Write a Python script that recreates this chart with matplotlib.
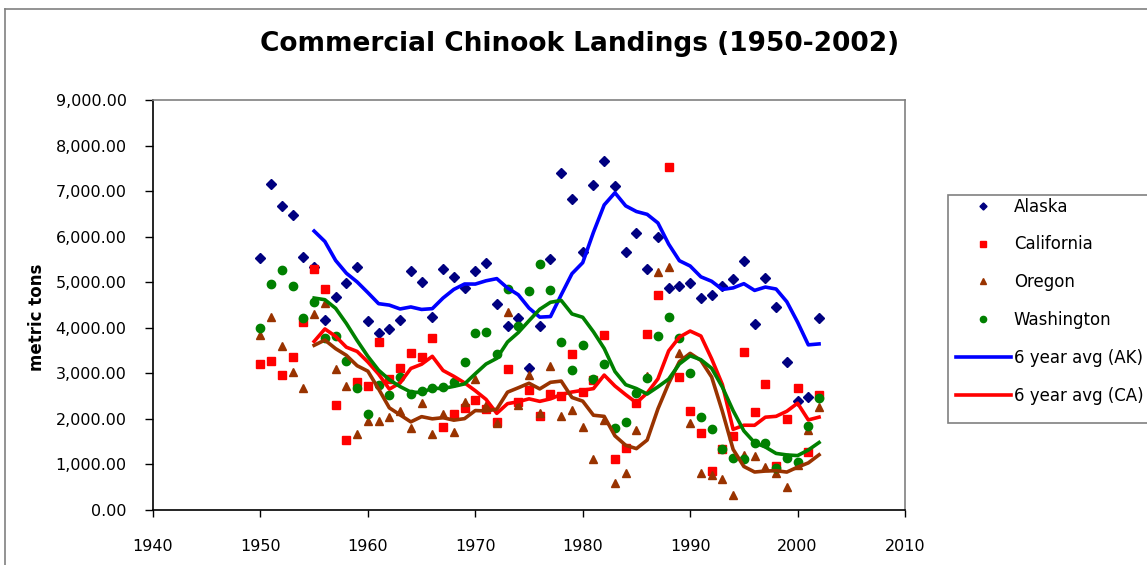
import matplotlib
matplotlib.use("Agg")
import matplotlib.pyplot as plt
from matplotlib.lines import Line2D
from matplotlib.patches import Rectangle
from matplotlib.ticker import FuncFormatter
import pandas as pd

years = list(range(1950, 2003))

alaska = [5540, 7165, 6673, 6470, 5550, 5340, 4165, 4670, 4990, 5325,
          4140, 3885, 3975, 4165, 5253, 4997, 4244, 5285, 5107, 4880,
          5243, 5429, 4529, 4050, 4221, 3124, 4050, 5502, 7397, 6833,
          5670, 7127, 7653, 7105, 5670, 6087, 5297, 5995, 4866, 4917,
          4976, 4660, 4712, 4917, 5070, 5473, 4090, 5100, 4456, 3238,
          2390, 2477, 4214]

california = [3211, 3270, 2963, 3358, 4119, 5283, 4851, 2295, 1536, 2802,
              2732, 3680, 2875, 3110, 3442, 3358, 3775, 1815, 2107, 2250,
              2404, 2220, 1935, 3090, 2360, 2634, 2070, 2550, 2510, 3417,
              2583, 2860, 3848, 1113, 1368, 2349, 3866, 4726, 7535, 2926,
              2166, 1700, 862, 1339, 1628, 3470, 2158, 2766, 976, 2008,
              2689, 1266, 2528]

oregon = [3845, 4229, 3607, 3036, 2671, 4302, 4540, 3095, 2729, 1668,
          1955, 1955, 2052, 2170, 1808, 2355, 1668, 2107, 1723, 2374,
          2872, 2297, 1900, 4356, 2297, 2974, 2125, 3165, 2063, 2195,
          1815, 1119, 1975, 600, 819, 1756, 2945, 5217, 5341, 3457,
          1917, 823, 768, 684, 340, 1200, 1188, 951, 812, 505,
          990, 1756, 2254]

washington = [4002, 4953, 5275, 4924, 4207, 4555, 3783, 3819, 3277, 2685,
              2114, 2737, 2528, 2915, 2553, 2620, 2685, 2700, 2810, 3241,
              3888, 3903, 3435, 4851, 4050, 4800, 5396, 4825, 3677, 3073,
              3614, 2882, 3205, 1793, 1939, 2561, 2893, 3827, 4229, 3782,
              3018, 2045, 1771, 1339, 1134, 1116, 1463, 1478, 922, 1141,
              1046, 1851, 2451]

x_ticks = [1940, 1950, 1960, 1970, 1980, 1990, 2000, 2010]
y_ticks = [0, 1000, 2000, 3000, 4000, 5000, 6000, 7000, 8000, 9000]

W, H = 1147, 565
fig = plt.figure(figsize=(W / 100, H / 100), dpi=100)
fig.patch.set_facecolor("white")

ax = fig.add_axes([153 / W, 1 - 510 / H, (905 - 153) / W, (510 - 100) / H])

df = pd.DataFrame({"AK": alaska, "CA": california, "OR": oregon, "WA": washington},
                  index=years)
avg = df.rolling(6).mean()

h_ak, = ax.plot(years, alaska, linestyle="none", marker="D", color="#000080",
                markersize=4.8, zorder=2, label="Alaska")
h_ca, = ax.plot(years, california, linestyle="none", marker="s", color="#FF0000",
                markersize=5.5, zorder=2, label="California")
h_or, = ax.plot(years, oregon, linestyle="none", marker="^", color="#993300",
                markersize=6, zorder=2, label="Oregon")
h_wa, = ax.plot(years, washington, linestyle="none", marker="o", color="#008000",
                markersize=6, zorder=2, label="Washington")

lw = 2.6
l_ak, = ax.plot(avg.index, avg["AK"], color="#0000FF", lw=lw, zorder=3,
                label="6 year avg (AK)")
l_ca, = ax.plot(avg.index, avg["CA"], color="#FF0000", lw=lw, zorder=3,
                label="6 year avg (CA)")
l_or, = ax.plot(avg.index, avg["OR"], color="#993300", lw=lw, zorder=3)
l_wa, = ax.plot(avg.index, avg["WA"], color="#008000", lw=lw, zorder=3)

ax.set_xlim(1940, 2010)
ax.set_ylim(0, 9000)
ax.set_xticks(x_ticks)
ax.set_yticks(y_ticks)
ax.yaxis.set_major_formatter(FuncFormatter(lambda v, p: f"{v:,.2f}"))
ax.tick_params(axis="y", direction="out", length=6, width=1, labelsize=11.5,
               pad=13, colors="black")
ax.tick_params(axis="x", direction="out", length=5, width=1, labelsize=11.5,
               pad=16, colors="black")
for s in ["left", "bottom"]:
    ax.spines[s].set_color("black")
    ax.spines[s].set_linewidth(1.2)
for s in ["top", "right"]:
    ax.spines[s].set_color("#808080")
    ax.spines[s].set_linewidth(1.2)

fig.text(580 / W, 1 - 44 / H, "Commercial Chinook Landings (1950-2002)",
         ha="center", va="center", fontsize=19, fontweight="bold")
fig.text(37 / W, 1 - 317 / H, "metric tons", ha="center", va="center",
         rotation=90, fontsize=12, fontweight="bold")

# chart area border (partly outside the image)
fig.add_artist(Line2D([5 / W, 5 / W], [0, 1 - 9 / H], color="#808080", lw=1.2))
fig.add_artist(Line2D([5 / W, 1], [1 - 9 / H, 1 - 9 / H], color="#808080", lw=1.2))

# legend box (runs past the right edge of the image)
fig.add_artist(Rectangle((948 / W, 1 - 423 / H), 220 / W, (423 - 195) / H,
                         transform=fig.transFigure, facecolor="white",
                         edgecolor="#808080", lw=1.2, zorder=4))

leg = fig.legend(handles=[h_ak, h_ca, h_or, h_wa, l_ak, l_ca],
                 loc="upper left", bbox_to_anchor=(953 / W, 1 - 195 / H),
                 borderaxespad=0, frameon=False,
                 fontsize=12, handlelength=3.3, handletextpad=0.2,
                 labelspacing=1.19, borderpad=0.15, markerscale=0.75)
leg.set_zorder(5)

fig.savefig("out.png", dpi=100)
